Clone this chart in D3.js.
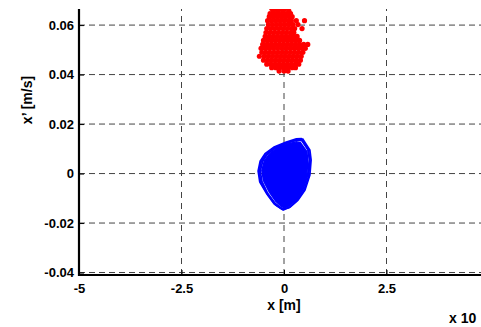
<!DOCTYPE html>
<html>
<head>
<meta charset="utf-8">
<script src="https://cdn.jsdelivr.net/npm/d3@7"></script>
<style>
html,body{margin:0;padding:0;background:#fff;}
svg{display:block;font-family:"Liberation Sans",Arial,sans-serif;font-weight:bold;}
</style>
</head>
<body>
<svg id="chart" width="481" height="327"></svg>
<script>
// ---- data ----
const xTicks = [-5, -2.5, 0, 2.5];
const xTickLabels = ["-5", "-2.5", "0", "2.5"];
const xGridLines = [-2.5, 0, 2.5, 5];
const yTicks = [-0.04, -0.02, 0, 0.02, 0.04, 0.06];
const yTickLabels = ["-0.04", "-0.02", "0", "0.02", "0.04", "0.06"];
const xLabel = "x [m]";
const yLabel = "x\u2019 [m/s]";
const exponentLabel = "x 10";

// red scatter (x in units of 1e-3 m, x' in m/s), given as rows [x', [x...]]
const redRows = [
  [0.0666, [-0.30, -0.20, -0.08, 0.02, 0.10]],
  [0.0656, [-0.26, -0.14, -0.02, 0.12]],
  [0.0646, [-0.34, -0.24, -0.14, -0.04, 0.06, 0.16]],
  [0.0634, [-0.36, -0.26, -0.16, -0.06, 0.04, 0.14, 0.20]],
  [0.0618, [-0.40, -0.30, -0.20, -0.10, 0.00, 0.10, 0.18, 0.30, 0.50]],
  [0.0602, [-0.38, -0.28, -0.18, -0.08, 0.02, 0.12, 0.22, 0.34]],
  [0.0586, [-0.42, -0.32, -0.22, -0.12, -0.02, 0.08, 0.18, 0.26, 0.44]],
  [0.0570, [-0.44, -0.34, -0.24, -0.14, -0.04, 0.06, 0.16, 0.24]],
  [0.0554, [-0.46, -0.36, -0.26, -0.16, -0.06, 0.04, 0.14, 0.24, 0.32]],
  [0.0538, [-0.50, -0.40, -0.30, -0.20, -0.10, 0.00, 0.10, 0.20, 0.30, 0.38]],
  [0.0522, [-0.52, -0.42, -0.32, -0.22, -0.12, -0.02, 0.08, 0.18, 0.28, 0.38, 0.48, 0.58]],
  [0.0506, [-0.56, -0.46, -0.36, -0.26, -0.16, -0.06, 0.04, 0.14, 0.24, 0.34, 0.44, 0.52]],
  [0.0490, [-0.54, -0.44, -0.34, -0.24, -0.14, -0.04, 0.06, 0.16, 0.26, 0.36, 0.46]],
  [0.0474, [-0.60, -0.48, -0.38, -0.28, -0.18, -0.08, 0.02, 0.12, 0.22, 0.32, 0.42]],
  [0.0458, [-0.50, -0.40, -0.30, -0.20, -0.10, 0.00, 0.10, 0.20, 0.30, 0.40]],
  [0.0442, [-0.42, -0.32, -0.22, -0.12, -0.02, 0.08, 0.18, 0.28, 0.36]],
  [0.0428, [-0.30, -0.20, -0.10, 0.00, 0.10, 0.20, 0.28]],
  [0.0414, [-0.12, 0.00, 0.10]]
];

// blue trajectory loops
const blueLoopOuter = [
  [0.46, 0.0139], [0.63, 0.0095], [0.66, 0.0055], [0.63, -0.0006], [0.51, -0.0067],
  [0.34, -0.0107], [0.15, -0.0135], [-0.02, -0.0147], [-0.20, -0.0127], [-0.39, -0.0087],
  [-0.56, -0.0038], [-0.61, 0.0006], [-0.56, 0.0046], [-0.44, 0.0075], [-0.22, 0.0103],
  [0.07, 0.0123], [0.34, 0.0139]
];
const blueLoopShifted = [
  [0.42, 0.0141], [0.58, 0.0100], [0.62, 0.0058], [0.58, -0.0004], [0.46, -0.0064],
  [0.30, -0.0105], [0.10, -0.0132], [-0.06, -0.0142], [-0.24, -0.0122], [-0.42, -0.0082],
  [-0.59, -0.0034], [-0.63, 0.0010], [-0.58, 0.0050], [-0.46, 0.0080], [-0.24, 0.0107],
  [0.04, 0.0126], [0.30, 0.0140]
];
const blueLoopMiddle = [
  [0.44, 0.0133], [0.60, 0.0092], [0.63, 0.0050], [0.60, -0.0010], [0.48, -0.0070],
  [0.30, -0.0112], [0.12, -0.0138], [-0.04, -0.0143], [-0.22, -0.0120], [-0.40, -0.0080],
  [-0.54, -0.0032], [-0.58, 0.0010], [-0.52, 0.0050], [-0.40, 0.0080], [-0.18, 0.0108],
  [0.10, 0.0126], [0.32, 0.0135]
];
const blueLoopCore = [
  [0.40, 0.0125], [0.56, 0.0088], [0.58, 0.0045], [0.55, -0.0012], [0.44, -0.0068],
  [0.28, -0.0106], [0.10, -0.0130], [-0.05, -0.0135], [-0.20, -0.0112], [-0.36, -0.0074],
  [-0.50, -0.0028], [-0.54, 0.0012], [-0.48, 0.0050], [-0.36, 0.0078], [-0.16, 0.0104],
  [0.10, 0.0120], [0.30, 0.0128]
];

// ---- drawing ----
(function () {
const svg = d3.select("#chart");
const mLeft = 79, mRight = 489, mTop = 9, mBottom = 275;
const x = d3.scaleLinear().domain([-5, 5]).range([mLeft, mRight]);
const y = d3.scaleLinear().domain([-0.041, 0.0665]).range([mBottom, mTop]);

svg.append("defs").append("clipPath").attr("id", "plotclip")
  .append("rect").attr("x", mLeft).attr("y", mTop).attr("width", mRight - mLeft).attr("height", mBottom - mTop);

// grid
const grid = svg.append("g");
grid.selectAll("line.h").data(yTicks).join("line").attr("class", "h")
  .attr("x1", mLeft).attr("x2", mRight)
  .attr("y1", d => y(d)).attr("y2", d => y(d))
  .attr("stroke", "#444").attr("stroke-width", 1).attr("stroke-dasharray", "6,4");
grid.selectAll("line.v").data(xGridLines).join("line").attr("class", "v")
  .attr("x1", d => x(d)).attr("x2", d => x(d))
  .attr("y1", mBottom).attr("y2", mTop)
  .attr("stroke", "#444").attr("stroke-width", 1).attr("stroke-dasharray", "6,5");

const plot = svg.append("g").attr("clip-path", "url(#plotclip)");

// blue loops
const line = d3.line().x(d => x(d[0])).y(d => y(d[1])).curve(d3.curveLinearClosed);
plot.append("path").datum(blueLoopCore).attr("d", line)
  .attr("fill", "#0000ff").attr("stroke", "#0000ff").attr("stroke-width", 1.5);
[blueLoopOuter, blueLoopShifted, blueLoopMiddle].forEach(loop => {
  plot.append("path").datum(loop).attr("d", line)
    .attr("fill", "none").attr("stroke", "#0000ff").attr("stroke-width", 1.8);
});

// red scatter
const redPoints = redRows.flatMap(([vy, xs]) => xs.map(vx => [vx, vy]));
plot.selectAll("circle.red").data(redPoints).join("circle").attr("class", "red")
  .attr("cx", d => x(d[0])).attr("cy", d => y(d[1]))
  .attr("r", 2.6).attr("fill", "#ff0000");

// axes
const xAxis = d3.axisBottom(x).tickValues(xTicks).tickSize(-5).tickPadding(9)
  .tickFormat((d, i) => xTickLabels[i]);
const gx = svg.append("g").attr("transform", `translate(0,${mBottom})`).call(xAxis);
const yAxis = d3.axisLeft(y).tickValues(yTicks).tickSize(-5).tickPadding(5)
  .tickFormat((d, i) => yTickLabels[i]);
const gy = svg.append("g").attr("transform", `translate(${mLeft},0)`).call(yAxis);
[gx, gy].forEach(g => {
  g.select(".domain").remove();
  g.selectAll(".tick line").attr("stroke", "#000").attr("stroke-width", 1);
  g.selectAll(".tick text").attr("fill", "#000")
    .style("font-family", "'Liberation Sans', Arial, sans-serif")
    .style("font-weight", "bold").style("font-size", "13px");
});
svg.append("line").attr("x1", mLeft).attr("x2", mRight).attr("y1", mBottom).attr("y2", mBottom)
  .attr("stroke", "#000").attr("stroke-width", 2.2);
svg.append("line").attr("x1", mLeft).attr("x2", mLeft).attr("y1", mTop).attr("y2", mBottom + 1)
  .attr("stroke", "#000").attr("stroke-width", 2.2);

// labels
svg.append("text").attr("x", x(0)).attr("y", 310).attr("text-anchor", "middle")
  .style("font-size", "14px").text(xLabel);
svg.append("text").attr("transform", `translate(32,100) rotate(-90)`).attr("text-anchor", "middle")
  .style("font-size", "14px").text(yLabel);
svg.append("text").attr("x", 449).attr("y", 323).style("font-size", "14px").text(exponentLabel);
})();
</script>
</body>
</html>
